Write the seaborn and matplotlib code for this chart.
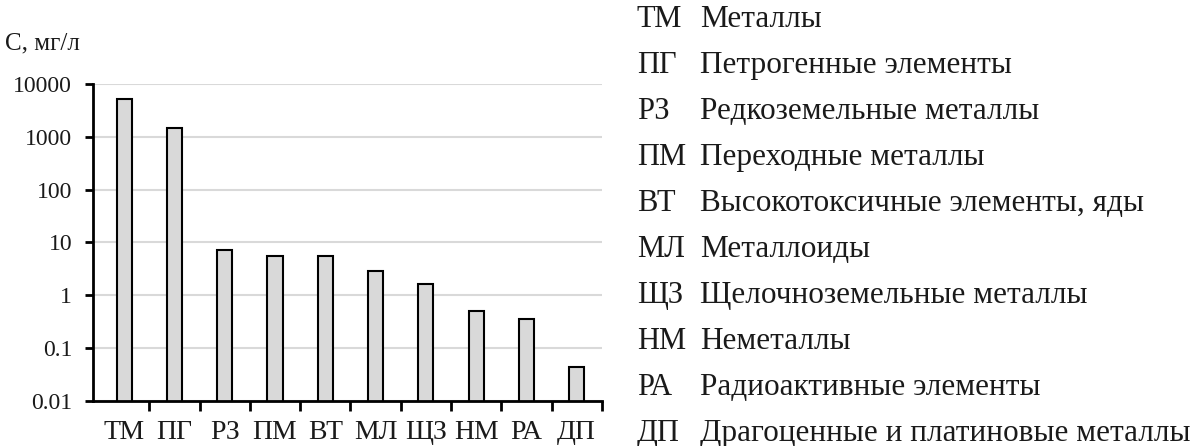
import matplotlib
matplotlib.use("Agg")
import matplotlib.pyplot as plt
import seaborn as sns
import pandas as pd
from matplotlib.ticker import FixedLocator, NullFormatter

# Element groups and their concentrations, mg/L
codes = ["ТМ", "ПГ", "РЗ", "ПМ", "ВТ", "МЛ", "ЩЗ", "НМ", "РА", "ДП"]
concentrations = [5200, 1500, 7.3, 5.6, 5.6, 2.85, 1.65, 0.5, 0.36, 0.044]
group_names = [
    "Металлы",
    "Петрогенные элементы",
    "Редкоземельные металлы",
    "Переходные металлы",
    "Высокотоксичные элементы, яды",
    "Металлоиды",
    "Щелочноземельные металлы",
    "Неметаллы",
    "Радиоактивные элементы",
    "Драгоценные и платиновые металлы",
]
y_ticks = [0.01, 0.1, 1, 10, 100, 1000, 10000]
y_tick_labels = ["0.01", "0.1", "1", "10", "100", "1000", "10000"]

sns.set_theme(style="white")
plt.rcParams["font.family"] = ["Liberation Serif", "DejaVu Serif"]

df = pd.DataFrame({"code": codes, "value": concentrations})

fig = plt.figure(figsize=(12, 4.46), dpi=100)
ax = fig.add_axes([0.0775, 0.1009, 0.424, 0.7108])
ax.set_yscale("log")
ax.set_ylim(0.01, 10000)

sns.barplot(data=df, x="code", y="value", ax=ax, width=0.3,
            color="#d9d9d9", saturation=1, edgecolor="black",
            linewidth=1.5, zorder=3)

ax.set_xlim(-0.62, 9.5)
ax.set_xlabel("")
ax.set_ylabel("")

# y axis: decades only, gridlines behind the bars
ax.yaxis.set_major_locator(FixedLocator(y_ticks))
ax.set_yticklabels(y_tick_labels)
ax.yaxis.set_minor_locator(FixedLocator([]))
ax.grid(axis="y", color="#d9d9d9", linewidth=1.5, zorder=0)
ax.set_axisbelow(True)
ax.tick_params(axis="y", which="major", left=True, length=6, width=2,
               color="black", labelsize=17, pad=9, labelcolor="#1a1a1a")

# x axis: category boundary ticks, labels without ticks
ax.set_xticks(range(len(codes)))
ax.set_xticklabels(codes)
ax.set_xticks([i + 0.5 for i in range(len(codes))], minor=True)
ax.xaxis.set_minor_formatter(NullFormatter())
ax.tick_params(axis="x", which="major", bottom=False, length=0,
               labelsize=20, pad=14, labelcolor="#1a1a1a")
ax.tick_params(axis="x", which="minor", bottom=True, length=7, width=2,
               color="black")

for side in ("top", "right"):
    ax.spines[side].set_visible(False)
for side in ("left", "bottom"):
    ax.spines[side].set_color("black")
    ax.spines[side].set_linewidth(2)
    ax.spines[side].set_zorder(4)

fig.text(0.004, 0.903, "С, мг/л", fontsize=18, color="#1a1a1a",
         ha="left", va="center")

# Legend of group codes on the right
row_top = 0.956
row_step = 0.1032
for i, (code, name) in enumerate(zip(codes, group_names)):
    y = row_top - i * row_step
    fig.text(0.5308, y, code, fontsize=22, color="#1a1a1a",
             ha="left", va="center")
    fig.text(0.5833, y, name, fontsize=22.5, color="#1a1a1a",
             ha="left", va="center")

fig.savefig("out.png", dpi=100, facecolor="white")
